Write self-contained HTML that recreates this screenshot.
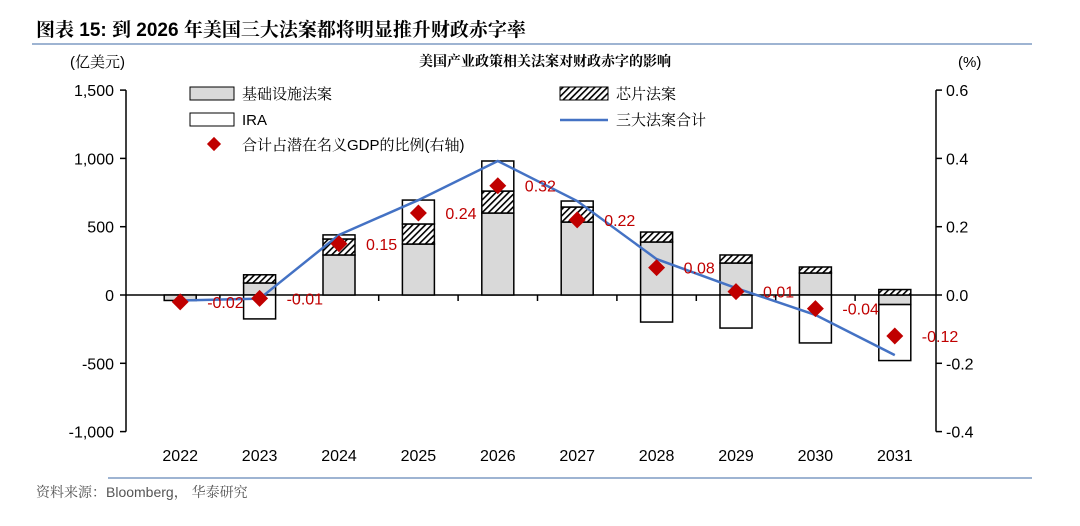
<!DOCTYPE html>
<html><head><meta charset="utf-8">
<style>
body{margin:0;background:#fff;}
svg{display:block;font-family:"Liberation Sans","Noto Sans CJK SC",sans-serif;}
.cj{font-family:"Liberation Sans","Noto Serif CJK SC",serif;}
</style></head>
<body>
<svg id="chart" width="1080" height="526" viewBox="0 0 1080 526" xmlns="http://www.w3.org/2000/svg">
<defs>
<pattern id="hatch" patternUnits="userSpaceOnUse" width="4.5" height="4.5" patternTransform="rotate(45)">
<rect width="4.5" height="4.5" fill="#fff"/><rect width="1.6" height="4.5" fill="#000"/>
</pattern>
</defs>
<text class="cj" x="36" y="36" font-size="19" font-weight="bold">图表 15:  到 2026 年美国三大法案都将明显推升财政赤字率</text>
<line x1="32" y1="44" x2="1032" y2="44" stroke="#7f9cc4" stroke-width="1.5"/>
<text class="cj" x="545" y="66" font-size="14" font-weight="bold" text-anchor="middle">美国产业政策相关法案对财政赤字的影响</text>
<text class="cj" x="70" y="67" font-size="15">(亿美元)</text>
<text x="958" y="67" font-size="15">(%)</text>
<g id="axes"></g>
<g id="bars"></g>
<g id="lineg"></g>
<g id="markers"></g>
<g>
<rect x="190" y="87" width="44" height="13" fill="#d9d9d9" stroke="#000"/>
<text class="cj" x="242" y="99" font-size="15">基础设施法案</text>
<rect x="560" y="87" width="48" height="13" fill="url(#hatch)" stroke="#000"/>
<text class="cj" x="616" y="99" font-size="15">芯片法案</text>
<rect x="190" y="113" width="44" height="13" fill="#fff" stroke="#000"/>
<text x="242" y="125" font-size="15">IRA</text>
<line x1="560" y1="120" x2="608" y2="120" stroke="#4472c4" stroke-width="2.5"/>
<text class="cj" x="616" y="125" font-size="15">三大法案合计</text>
<rect x="209" y="139" width="10" height="10" fill="#c00000" transform="rotate(45 214 144)"/>
<text class="cj" x="242" y="150" font-size="15">合计占潜在名义GDP的比例(右轴)</text>
</g>
<line x1="108" y1="478" x2="1032" y2="478" stroke="#7f9cc4" stroke-width="1.5"/>
<text class="cj" x="36" y="497" font-size="14" fill="#555">资料来源：Bloomberg， 华泰研究</text>
</svg>
<script>
const years=["2022","2023","2024","2025","2026","2027","2028","2029","2030","2031"];
const infra=[-40,88,293,373,600,534,388,234,161,-70];
const chips=[0,60,117,147,161,110,73,59,44,40];
const ira=[0,-175,30,175,220,44,-198,-242,-351,-410];
const ratio=[-0.02,-0.01,0.15,0.24,0.32,0.22,0.08,0.01,-0.04,-0.12];
const leftTicks=[1500,1000,500,0,-500,-1000];
const leftTickLabels=["1,500","1,000","500","0","-500","-1,000"];
const rightTicks=[0.6,0.4,0.2,0,-0.2,-0.4];
const rightTickLabels=["0.6","0.4","0.2","0.0","-0.2","-0.4"];

const NS="http://www.w3.org/2000/svg";
const x0=140.5,step=79.4,bw=32;
const xc=i=>x0+step*(i+0.5);
const yL=v=>295-v*(68.3/500);
const yR=v=>295-v*(68.3/0.2);
function mk(tag,attrs,parent){const e=document.createElementNS(NS,tag);for(const k in attrs)e.setAttribute(k,attrs[k]);parent.appendChild(e);return e;}
const axes=document.getElementById('axes');
const bars=document.getElementById('bars');
const lineg=document.getElementById('lineg');
const markers=document.getElementById('markers');

let a=mk('line',{x1:126,y1:yL(1500),x2:126,y2:yL(-1000),stroke:'#000','stroke-width':1.5},axes);


a=mk('line',{x1:936,y1:yR(0.6),x2:936,y2:yR(-0.4),stroke:'#000','stroke-width':1.5},axes);


leftTicks.forEach((v,i)=>{
  const t=mk('line',{x1:120,y1:yL(v),x2:126,y2:yL(v),stroke:'#000','stroke-width':1.5},axes);
  
  
  const l=mk('text',{x:114,y:yL(v)+6,'font-size':16,'text-anchor':'end'},axes);
  l.textContent=leftTickLabels[i];
  
  
});
rightTicks.forEach((v,i)=>{
  const t=mk('line',{x1:936,y1:yR(v),x2:942,y2:yR(v),stroke:'#000','stroke-width':1.5},axes);
  
  
  const l=mk('text',{x:946,y:yR(v)+6,'font-size':16},axes);
  l.textContent=rightTickLabels[i];
  
  
});
years.forEach((y,i)=>{
  const l=mk('text',{x:xc(i),y:461,'font-size':16,'text-anchor':'middle'},axes);
  l.textContent=y;
  
  
});
function seg(i,from,to,fill,name){
  if(from===to)return;
  const r=mk('rect',{x:xc(i)-bw/2,y:Math.min(yL(from),yL(to)),width:bw,height:Math.abs(yL(from)-yL(to)),fill:fill,stroke:'#000','stroke-width':1.5},bars);
  
  
}
years.forEach((y,i)=>{
  let pos=0,neg=0;
  [[infra[i],'#d9d9d9','bar-infrastructure-'+y],[chips[i],'url(#hatch)','bar-chips-'+y],[ira[i],'#fff','bar-ira-'+y]].forEach(([v,f,n])=>{
    if(v>=0){seg(i,pos,pos+v,f,n);pos+=v;}else{seg(i,neg,neg+v,f,n);neg+=v;}
  });
});
const xa=mk('line',{x1:126,y1:295,x2:936,y2:295,stroke:'#000','stroke-width':1.5},axes);


for(let i=1;i<years.length;i++){
  const t=mk('line',{x1:x0+step*i,y1:295,x2:x0+step*i,y2:301,stroke:'#000','stroke-width':1.5},axes);
  
  
}
const pts=years.map((y,i)=>xc(i)+','+yL(infra[i]+chips[i]+ira[i])).join(' ');
const pl=mk('polyline',{points:pts,fill:'none',stroke:'#4472c4','stroke-width':2.5},lineg);


ratio.forEach((v,i)=>{
  const cx=xc(i),cy=yR(v);
  const m=mk('rect',{x:cx-6,y:cy-6,width:12,height:12,fill:'#c00000',transform:`rotate(45 ${cx} ${cy})`},markers);
  
  
  const l=mk('text',{x:cx+27,y:cy+6,'font-size':16,fill:'#c00000'},markers);
  l.textContent=v.toFixed(2);
  
  
});
</script>
</body></html>
